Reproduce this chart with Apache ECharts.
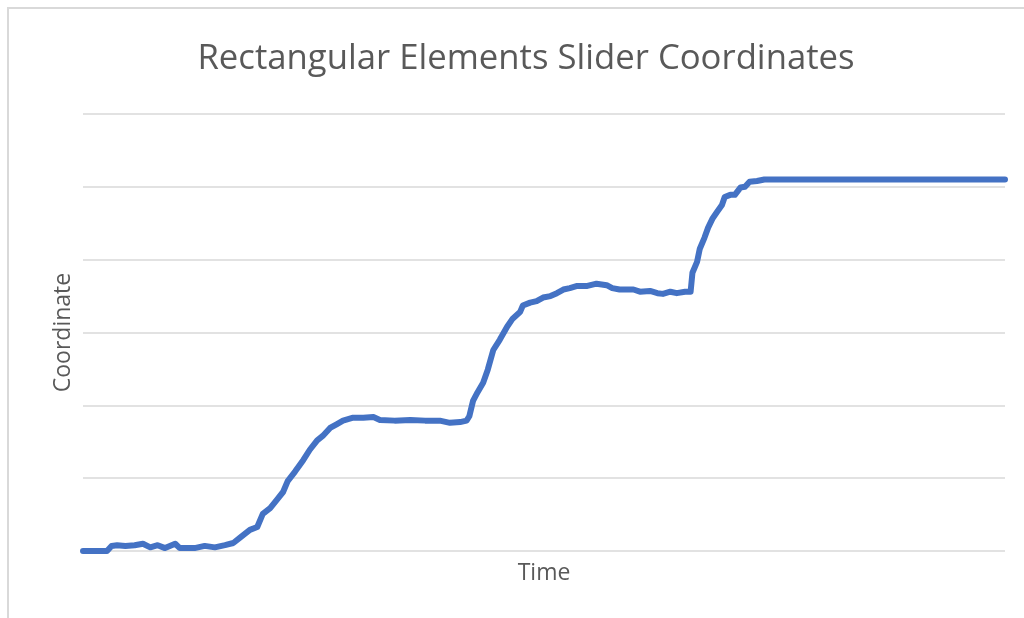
<!DOCTYPE html>
<html>
<head>
<meta charset="utf-8">
<script src="https://cdn.jsdelivr.net/npm/echarts@6/dist/echarts.min.js"></script>
<style>
  html, body { margin: 0; padding: 0; background: #fff; }
  #main { width: 1024px; height: 618px; }
</style>
</head>
<body>
<div id="main"></div>
<script>
// time samples (arbitrary units, 0..100) and slider coordinate
var times = [0, 2.6, 3.1, 3.7, 4.6, 5.6, 6.5, 7.3, 8.1, 8.9, 10.0, 10.5, 12.1, 13.2, 14.3, 15.4,
  16.3, 17.0, 18.1, 18.9, 19.5, 20.3, 21.0, 21.7, 22.2, 23.0, 23.9, 24.6, 25.4, 26.0, 26.8, 27.5,
  28.2, 29.3, 30.4, 31.5, 32.2, 33.8, 35.5, 37.1, 38.7, 39.8, 40.9, 41.6, 41.9, 42.3, 42.8, 43.4,
  43.9, 44.5, 45.2, 46.0, 46.6, 47.4, 47.7, 48.5, 49.2, 49.9, 50.7, 51.4, 52.1, 52.8, 53.6, 54.7,
  55.7, 56.8, 57.4, 58.2, 59.7, 60.4, 61.5, 62.3, 62.9, 63.7, 64.4, 65.3, 65.9, 66.1, 66.6, 66.9,
  67.4, 67.8, 68.3, 68.8, 69.3, 69.6, 70.2, 70.7, 71.3, 71.8, 72.3, 73.1, 73.9, 100];
var coords = [0, 0, 0.07, 0.08, 0.07, 0.08, 0.10, 0.05, 0.08, 0.04, 0.10, 0.04, 0.04, 0.07, 0.05, 0.08,
  0.11, 0.18, 0.29, 0.33, 0.51, 0.59, 0.70, 0.81, 0.96, 1.09, 1.25, 1.39, 1.52, 1.58, 1.69, 1.74,
  1.79, 1.83, 1.83, 1.84, 1.80, 1.79, 1.80, 1.79, 1.79, 1.76, 1.77, 1.79, 1.85, 2.06, 2.18, 2.31,
  2.49, 2.76, 2.90, 3.08, 3.19, 3.28, 3.37, 3.41, 3.43, 3.48, 3.50, 3.54, 3.59, 3.61, 3.64, 3.64,
  3.67, 3.65, 3.61, 3.59, 3.59, 3.56, 3.57, 3.54, 3.53, 3.56, 3.54, 3.56, 3.56, 3.82, 3.97, 4.15,
  4.30, 4.44, 4.57, 4.66, 4.75, 4.86, 4.89, 4.89, 4.99, 5.00, 5.07, 5.08, 5.10, 5.10];

var points = times.map(function (t, i) { return [t, coords[i]]; });

var myChart = echarts.init(document.getElementById('main'));
var option = {
  backgroundColor: '#fff',
  animation: false,
  title: {
    text: 'Rectangular Elements Slider Coordinates',
    left: 521,
    textAlign: 'center',
    top: 37,
    textStyle: { fontFamily: 'Open Sans', fontWeight: 'normal', fontSize: 34.7, color: '#595959' }
  },
  graphic: [{
    type: 'rect',
    shape: { x: 8, y: 8, width: 1040, height: 640 },
    style: { fill: 'none', stroke: '#d9d9d9', lineWidth: 2 },
    silent: true
  }],
  grid: { left: 83, right: 19, top: 114, bottom: 67 },
  xAxis: {
    type: 'value',
    min: 0,
    max: 100,
    name: 'Time',
    nameLocation: 'middle',
    nameGap: 11,
    nameTextStyle: { fontFamily: 'Open Sans', fontSize: 23, color: '#595959' },
    axisLine: { show: false },
    axisTick: { show: false },
    axisLabel: { show: false },
    splitLine: { show: false }
  },
  yAxis: {
    type: 'value',
    min: 0,
    max: 6,
    interval: 1,
    name: 'Coordinate',
    nameLocation: 'middle',
    nameGap: 8,
    nameTextStyle: { fontFamily: 'Open Sans', fontSize: 23, color: '#595959' },
    axisLine: { show: false },
    axisTick: { show: false },
    axisLabel: { show: false },
    splitLine: { lineStyle: { color: '#d9d9d9', width: 1.5 } }
  },
  series: [{
    name: 'Coordinate',
    type: 'line',
    data: points,
    showSymbol: false,
    lineStyle: { color: '#4472c4', width: 6, cap: 'round', join: 'round' }
  }]
};
myChart.setOption(option);
</script>
</body>
</html>
